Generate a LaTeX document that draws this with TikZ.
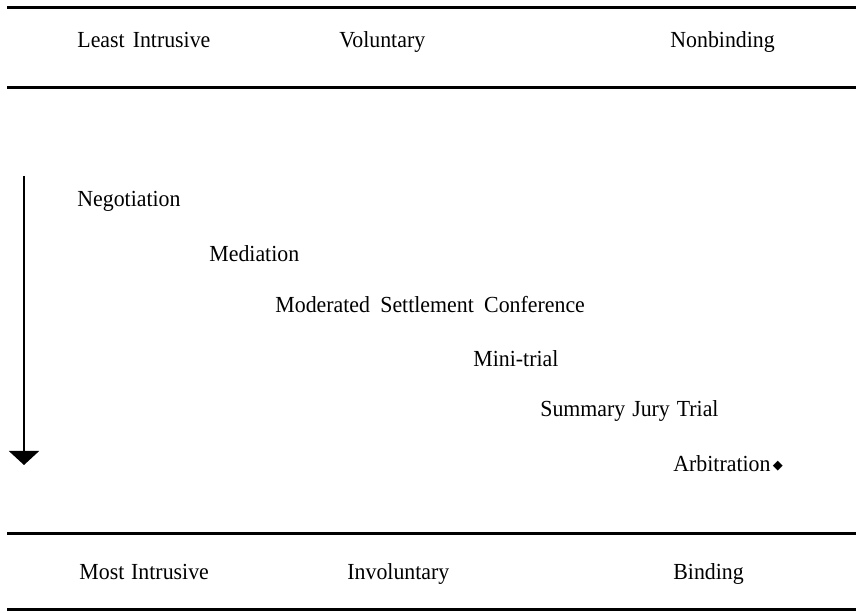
\documentclass[tikz,border=0pt]{standalone}
\usepackage{fontspec}
\setmainfont[FakeStretch=0.95]{Liberation Serif}
\newfontfamily\symfont{DejaVu Sans}
\usetikzlibrary{arrows.meta}
\begin{document}
\begin{tikzpicture}[x=0.5pt,y=-0.5pt,
  rule/.style={line width=1.5pt},
  lbl/.style={anchor=base west,inner sep=0pt,font=\fontsize{11.5}{14}\selectfont},
  flow/.style={line width=1pt,-{Triangle[width=15pt,length=7pt]}}]
\useasboundingbox (0,0) rectangle (856,613);
\draw[rule] (7,8) -- (856,8);
\draw[rule] (7,88) -- (856,88);
\draw[rule] (7,534) -- (856,534);
\draw[rule] (7,610) -- (856,610);
\node[lbl] (least) at (77,48) {Least\hspace{0.35em}Intrusive};
\node[lbl] (vol) at (339,48) {Voluntary};
\node[lbl] (nonb) at (670,48) {Nonbinding};
\node[lbl] (most) at (79,580) {Most\hspace{0.3em}Intrusive};
\node[lbl] (invol) at (347,580) {Involuntary};
\node[lbl] (bind) at (673,580) {Binding};
\node[lbl] (neg) at (77,207) {Negotiation};
\node[lbl] (med) at (209,262) {Mediation};
\node[lbl] (msc) at (275,313) {Moderated\hspace{0.45em}Settlement\hspace{0.45em}Conference};
\node[lbl] (mini) at (473,367) {Mini-trial};
\node[lbl] (sjt) at (540,417) {Summary\hspace{0.3em}Jury\hspace{0.3em}Trial};
\node[lbl] (arb) at (673,472) {Arbitration\hspace{0.1em}\raisebox{1pt}{\symfont\fontsize{6.5}{8}\selectfont ◆}};
\coordinate (atop) at (24,176);
\coordinate (abot) at (24,465);
\draw[flow] (atop) -- (abot);
\end{tikzpicture}
\end{document}
